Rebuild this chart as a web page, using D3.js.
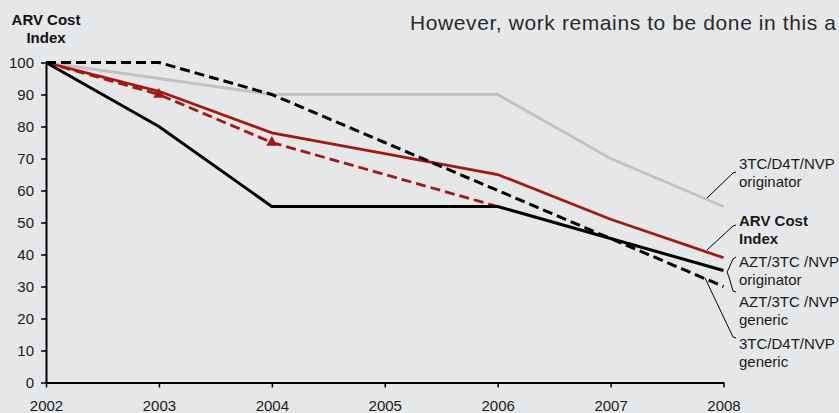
<!DOCTYPE html>
<html>
<head>
<meta charset="utf-8">
<script src="https://cdn.jsdelivr.net/npm/d3@7"></script>
<style>
  html, body { margin: 0; padding: 0; background: #e6e7e9; overflow: hidden; }
  svg { display: block; font-family: "Liberation Sans", Arial, Helvetica, sans-serif; }
</style>
</head>
<body>
<svg id="chart" width="839" height="413"></svg>
<script>
// ---- data ----
const years = [2002, 2003, 2004, 2005, 2006, 2007, 2008];
const origD4T  = [100, 95, 90, 90, 90, 70, 55];          // 3TC/D4T/NVP originator
const costIdx  = [100, 91, 78, 71.5, 65, 51, 39];        // ARV Cost Index
const origAZT  = [100, 80, 55, 55, 55, 45, 35];          // AZT/3TC/NVP originator
const genD4T   = [100, 100, 90, 75, 60, 45, 30];         // 3TC/D4T/NVP generic
const genAZT   = [100, 90, 75, 65, 55, null, null];      // AZT/3TC/NVP generic
const markerYears = [2003, 2004];
const markerVals  = [90, 75];
const yTicks = [0, 10, 20, 30, 40, 50, 60, 70, 80, 90, 100];
const title = "However, work remains to be done in this a";

// ---- layout ----
const svg = d3.select("#chart");
const x = d3.scaleLinear().domain([2002, 2008]).range([46, 723.5]);
const y = d3.scaleLinear().domain([0, 100]).range([382.5, 62.5]);
const FS = 15;

// title text
svg.append("text").attr("x", 410).attr("y", 30)
  .attr("font-size", 21).attr("fill", "#2a2a2a")
  .attr("textLength", 426).attr("lengthAdjust", "spacing")
  .text(title);

// y axis title
const yt = svg.append("text").attr("text-anchor", "middle")
  .attr("font-size", FS).attr("font-weight", "bold").attr("fill", "#111");
yt.append("tspan").attr("x", 46).attr("y", 25).text("ARV Cost");
yt.append("tspan").attr("x", 46).attr("y", 43).text("Index");

// axes
const yAxis = svg.append("g").attr("transform", `translate(${x(2002)},0)`)
  .call(d3.axisLeft(y).tickValues(yTicks).tickSize(5).tickSizeOuter(0).tickPadding(7));
const xAxis = svg.append("g").attr("transform", `translate(0,${y(0)})`)
  .call(d3.axisBottom(x).tickValues(years).tickFormat(d3.format("d")).tickSize(5).tickSizeOuter(0).tickPadding(13));
[yAxis, xAxis].forEach(g => {
  g.selectAll("text").attr("font-size", FS).attr("fill", "#1a1a1a")
    .attr("font-family", "Liberation Sans, Arial, sans-serif");
  g.select(".domain").attr("stroke", "#000").attr("stroke-width", 2);
  g.selectAll(".tick line").attr("stroke", "#000").attr("stroke-width", 1.5);
});

// lines
const line = d3.line()
  .defined(d => d[1] != null)
  .x(d => x(d[0])).y(d => y(d[1]));
const pts = vals => years.map((yr, i) => [yr, vals[i]]);

const red = "#a01a12";
svg.append("path").attr("d", line(pts(origD4T))).attr("fill", "none")
  .attr("stroke", "#c2c2c2").attr("stroke-width", 2.8);
svg.append("path").attr("d", line(pts(genAZT))).attr("fill", "none")
  .attr("stroke", red).attr("stroke-width", 2.8).attr("stroke-dasharray", "10,5");
svg.append("path").attr("d", line(pts(costIdx))).attr("fill", "none")
  .attr("stroke", red).attr("stroke-width", 2.8);
svg.append("path").attr("d", line(pts(origAZT))).attr("fill", "none")
  .attr("stroke", "#000").attr("stroke-width", 3);
svg.append("path").attr("d", line(pts(genD4T))).attr("fill", "none")
  .attr("stroke", "#000").attr("stroke-width", 3).attr("stroke-dasharray", "10,5");

// triangle markers
svg.selectAll(".tri").data(markerYears.map((yr, i) => [yr, markerVals[i]]))
  .enter().append("path").attr("class", "tri")
  .attr("d", d3.symbol().type(d3.symbolTriangle).size(55))
  .attr("transform", d => `translate(${x(d[0])},${y(d[1])})`)
  .attr("fill", red);

// right labels
const labels = [
  { lines: ["3TC/D4T/NVP", "originator"], y: 169, bold: false },
  { lines: ["ARV Cost", "Index"], y: 226, bold: true },
  { lines: ["AZT/3TC /NVP", "originator"], y: 267, bold: false },
  { lines: ["AZT/3TC /NVP", "generic"], y: 307, bold: false },
  { lines: ["3TC/D4T/NVP", "generic"], y: 349, bold: false }
];
labels.forEach(l => {
  const t = svg.append("text").attr("font-size", FS).attr("fill", "#1a1a1a")
    .attr("font-weight", l.bold ? "bold" : "normal");
  l.lines.forEach((s, i) => t.append("tspan").attr("x", 739).attr("y", l.y + i * 18).text(s));
});

// leader lines
const leaders = [
  [[707, 198], [733, 173], [736, 172]],
  [[707, 250], [733, 226], [736, 225]],
  [[736, 257], [733, 259], [729, 268], [727, 272], [729, 277], [733, 291], [736, 292]],
  [[705, 278], [733, 337], [736, 338]]
];
leaders.forEach(p => {
  svg.append("path").attr("d", d3.line()(p)).attr("fill", "none")
    .attr("stroke", "#000").attr("stroke-width", 1);
});
</script>
</body>
</html>
